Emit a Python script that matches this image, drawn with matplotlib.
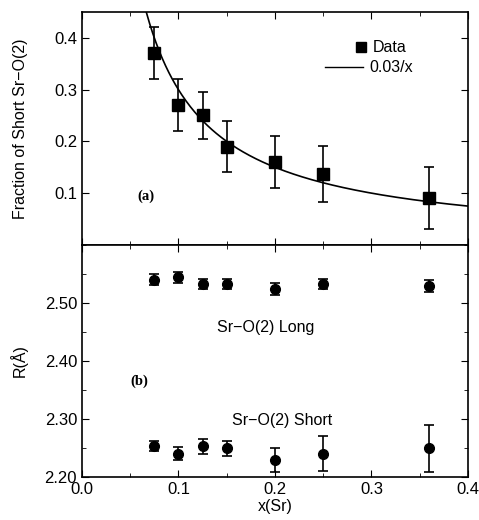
import numpy as np
import matplotlib.pyplot as plt
from matplotlib.lines import Line2D
from matplotlib.ticker import MultipleLocator

plt.rcParams['font.family'] = ['Liberation Sans', 'DejaVu Sans']

x_sr = [0.075, 0.1, 0.125, 0.15, 0.2, 0.25, 0.36]
frac_short = [0.37, 0.27, 0.25, 0.19, 0.16, 0.137, 0.09]
frac_err = [0.05, 0.05, 0.045, 0.05, 0.05, 0.055, 0.06]
r_long = [2.540, 2.544, 2.533, 2.533, 2.524, 2.533, 2.529]
r_long_err = [0.009, 0.009, 0.009, 0.009, 0.01, 0.009, 0.011]
r_short = [2.253, 2.240, 2.253, 2.249, 2.229, 2.240, 2.249]
r_short_err = [0.009, 0.011, 0.013, 0.013, 0.021, 0.03, 0.04]
fit_coef = 0.03

fig = plt.figure(figsize=(4.79, 5.2), dpi=100)
ax1 = fig.add_axes([0.171, 0.529, 0.806, 0.448])
ax2 = fig.add_axes([0.171, 0.083, 0.806, 0.446], sharex=ax1)

# (a) fraction of short bonds
xf = np.linspace(fit_coef / 0.45, 0.4, 300)
ax1.errorbar(x_sr, frac_short, yerr=frac_err, fmt='s', color='k', ms=8,
             capsize=3.5, elinewidth=1.2, capthick=1.2)
ax1.plot(xf, fit_coef / xf, color='k', lw=1.2)
ax1.set_ylim(0, 0.45)
ax1.set_yticks([0.1, 0.2, 0.3, 0.4])
ax1.set_ylabel('Fraction of Short Sr\u2212O(2)', fontsize=11.5)
ax1.yaxis.set_label_coords(-0.14, 0.5)
ax1.text(0.057, 0.094, '(a)', family='Liberation Serif', fontweight='bold',
         fontsize=10.5, va='center')
# two legends so the square sits next to its label, as in the original
leg1 = ax1.legend([Line2D([], [], ls='none', marker='s', color='k', ms=6.5)],
                  ['Data'], loc='upper left', frameon=False, fontsize=11.5,
                  bbox_to_anchor=(0.69, 0.905), handlelength=0.8,
                  handletextpad=0.3, borderaxespad=0)
ax1.add_artist(leg1)
ax1.legend([Line2D([], [], color='k', lw=1.0)], ['0.03/x'], loc='upper left',
           frameon=False, fontsize=11.5, bbox_to_anchor=(0.612, 0.82),
           handlelength=2.4, handletextpad=0.4, borderaxespad=0)
plt.setp(ax1.get_xticklabels(), visible=False)

# (b) bond lengths
ax2.errorbar(x_sr, r_long, yerr=r_long_err, fmt='o', color='k', ms=7,
             capsize=3.5, elinewidth=1.2, capthick=1.2)
ax2.errorbar(x_sr, r_short, yerr=r_short_err, fmt='o', color='k', ms=7,
             capsize=3.5, elinewidth=1.2, capthick=1.2)
ax2.set_ylim(2.2, 2.6)
ax2.set_yticks([2.2, 2.3, 2.4, 2.5])
ax2.set_yticklabels(['2.20', '2.30', '2.40', '2.50'])
ax2.yaxis.set_minor_locator(MultipleLocator(0.05))
ax2.set_xlim(0, 0.4)
ax2.set_xticks([0.0, 0.1, 0.2, 0.3, 0.4])
ax2.set_xticklabels(['0.0', '0.1', '0.2', '0.3', '0.4'])
ax2.xaxis.set_minor_locator(MultipleLocator(0.05))
ax2.set_xlabel('x(Sr)', fontsize=11.5, labelpad=2)
ax2.set_ylabel('R(\u00c5)', fontsize=11.5)
ax2.yaxis.set_label_coords(-0.14, 0.5)
ax2.text(0.19, 2.457, 'Sr\u2212O(2) Long', ha='center', va='center', fontsize=11.5)
ax2.text(0.207, 2.298, 'Sr\u2212O(2) Short', ha='center', va='center', fontsize=11.5)
ax2.text(0.05, 2.364, '(b)', family='Liberation Serif', fontweight='bold',
         fontsize=10.5, va='center')

for ax in (ax1, ax2):
    ax.tick_params(which='both', direction='in', top=True, right=True,
                   labelsize=12)
    ax.tick_params(which='major', length=5)
    ax.tick_params(which='minor', length=3)
    for s in ax.spines.values():
        s.set_linewidth(1.2)

fig.savefig('out.png', dpi=100)
